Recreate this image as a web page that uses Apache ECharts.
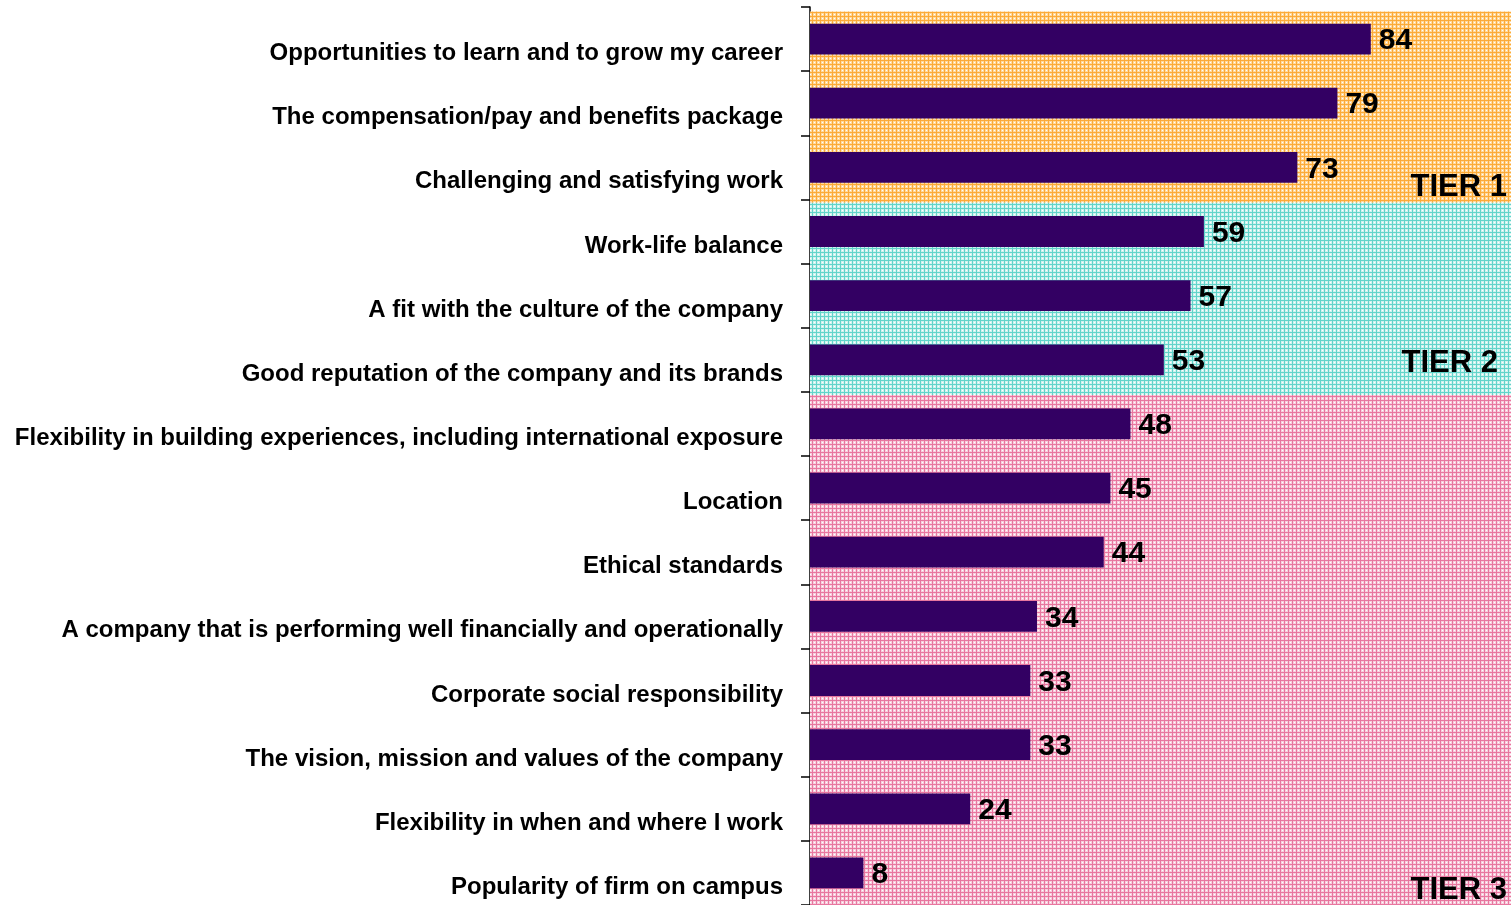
<!DOCTYPE html>
<html>
<head>
<meta charset="utf-8">
<style>
  html, body { margin: 0; padding: 0; background: #ffffff; }
  #chart { width: 1511px; height: 905px; }
</style>
<script src="https://cdn.jsdelivr.net/npm/echarts@6/dist/echarts.min.js"></script>
</head>
<body>
<div id="chart"></div>
<script>
// Attributes ranked by share of respondents, top to bottom
const categories = [
  'Opportunities to learn and to grow my career',
  'The compensation/pay and benefits package',
  'Challenging and satisfying work',
  'Work-life balance',
  'A fit with the culture of the company',
  'Good reputation of the company and its brands',
  'Flexibility in building experiences, including international exposure',
  'Location',
  'Ethical standards',
  'A company that is performing well financially and operationally',
  'Corporate social responsibility',
  'The vision, mission and values of the company',
  'Flexibility in when and where I work',
  'Popularity of firm on campus'
];
const values = [84, 79, 73, 59, 57, 53, 48, 45, 44, 34, 33, 33, 24, 8];

// Tier groupings, in category-row units (row 0 = top row)
const tierNames = ['TIER 1', 'TIER 2', 'TIER 3'];
const tierStart = [0.07, 3.05, 6.05];
const tierEnd = [3.05, 6.05, 14];

// Woven hatch fill for each tier band
function hatch(strong, pale) {
  const c = document.createElement('canvas');
  c.width = 4; c.height = 4;
  const g = c.getContext('2d');
  g.fillStyle = pale; g.fillRect(0, 0, 4, 4);
  g.fillStyle = '#ffffff'; g.fillRect(2, 2, 1, 1);
  g.fillStyle = strong; g.fillRect(0, 0, 4, 1); g.fillRect(0, 0, 1, 4);
  return { image: c, repeat: 'repeat' };
}
const tierFills = [
  hatch('#fcaa38', '#ffd99e'),
  hatch('#62d4ca', '#cff2ee'),
  hatch('#e8769f', '#f7cedd')
];
// Nudges for each tier caption from the band's bottom-right corner
const tierLabelShift = [[0, 4], [-9, -12], [0, 5]];

const FONT = '"Liberation Sans", Arial, Helvetica, sans-serif';

const chart = echarts.init(document.getElementById('chart'), null, { renderer: 'canvas' });

chart.setOption({
  backgroundColor: '#ffffff',
  animation: false,
  grid: { left: 810, right: 0, top: 7, bottom: 0, containLabel: false },
  xAxis: {
    type: 'value', min: 0, max: 105, show: false,
    splitLine: { show: false }
  },
  yAxis: [
    {
      type: 'category',
      data: categories,
      inverse: true,
      offset: 3,
      axisLine: { show: true, lineStyle: { color: '#000000', width: 1.5 } },
      axisTick: { show: true, length: 9, lineStyle: { color: '#000000', width: 1.5 } },
      axisLabel: {
        color: '#000000', fontFamily: FONT, fontWeight: 'bold', fontSize: 24,
        margin: 24, verticalAlign: 'top', lineHeight: 29
      },
      splitLine: { show: false }
    },
    {
      type: 'value', min: 0, max: 14, inverse: true, show: false,
      splitLine: { show: false }
    }
  ],
  series: [
    {
      type: 'line',
      yAxisIndex: 1,
      data: [],
      z: 1,
      markArea: {
        silent: true,
        label: {
          show: true, position: 'insideBottomRight', distance: 4,
          formatter: '{b}',
          color: '#000000', fontFamily: FONT, fontWeight: 'bold', fontSize: 31
        },
        data: tierNames.map((name, i) => [
          {
            name: name, yAxis: tierStart[i],
            itemStyle: { color: tierFills[i], opacity: 1 },
            label: { offset: tierLabelShift[i] }
          },
          { yAxis: tierEnd[i] }
        ])
      }
    },
    {
      type: 'bar',
      data: values,
      barWidth: '48%',
      z: 3,
      itemStyle: { color: '#330063' },
      label: {
        show: true, position: 'right', distance: 8, offset: [0, 2],
        color: '#000000', fontFamily: FONT, fontWeight: 'bold', fontSize: 30
      }
    }
  ]
});
</script>
</body>
</html>
